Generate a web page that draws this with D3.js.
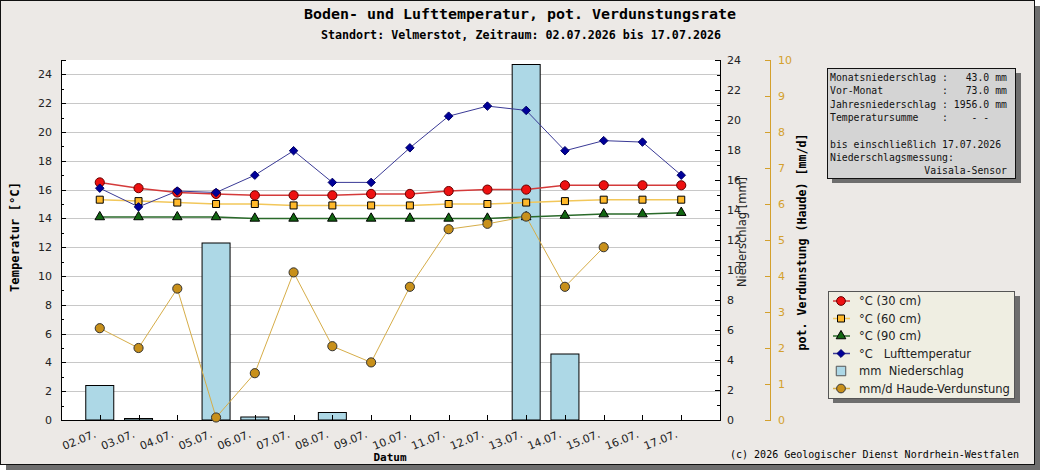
<!DOCTYPE html>
<html>
<head>
<meta charset="utf-8">
<script src="https://cdn.jsdelivr.net/npm/d3@7"></script>
<style>
  body { margin: 0; background: #fff; }
  svg text { white-space: pre; }
</style>
</head>
<body>
<svg id="drawing_region"></svg>
<script>
// dates (x categories)
const dates = ["02.07.", "03.07.", "04.07.", "05.07.", "06.07.", "07.07.", "08.07.", "09.07.",
               "10.07.", "11.07.", "12.07.", "13.07.", "14.07.", "15.07.", "16.07.", "17.07."];
// soil temperature in 30 / 60 / 90 cm, air temperature [°C]
const temp30 = [16.5, 16.1, 15.8, 15.7, 15.6, 15.6, 15.6, 15.7, 15.7, 15.9, 16.0, 16.0, 16.3, 16.3, 16.3, 16.3];
const temp60 = [15.3, 15.2, 15.1, 15.0, 15.0, 14.9, 14.9, 14.9, 14.9, 15.0, 15.0, 15.1, 15.2, 15.3, 15.3, 15.3];
const temp90 = [14.1, 14.1, 14.1, 14.1, 14.0, 14.0, 14.0, 14.0, 14.0, 14.0, 14.0, 14.1, 14.2, 14.3, 14.3, 14.4];
const tempAir = [16.1, 14.8, 15.9, 15.8, 17.0, 18.7, 16.5, 16.5, 18.9, 21.1, 21.8, 21.5, 18.7, 19.4, 19.3, 17.0];
// precipitation [mm]
const precip = [2.3, 0.1, 0, 11.8, 0.2, 0, 0.5, 0, 0, 0, 0, 23.7, 4.4, 0, 0, 0];
// potential evaporation (Haude) [mm/d]
const evap = [2.55, 2.0, 3.65, 0.07, 1.3, 4.1, 2.05, 1.6, 3.7, 5.3, 5.45, 5.65, 3.7, 4.8, null, null];

const tempTicks = d3.range(0, 25, 2);
const precipTicks = d3.range(0, 25, 2);
const evapTicks = d3.range(0, 11, 1);

const infoLines = [
    "Monatsniederschlag :   43.0 mm",
    "Vor-Monat          :   73.0 mm",
    "Jahresniederschlag : 1956.0 mm",
    "Temperatursumme    :    - -",
    "",
    "bis einschließlich 17.07.2026",
    "Niederschlagsmessung:",
    "                Vaisala-Sensor"
];

const W = 1040, H = 470;
const margin = {top: 60, right: 320, bottom: 50, left: 61};
const plotRight = 720, plotBottom = 420;
const gold = "#d4a02c";
const mono = "'DejaVu Sans Mono', monospace";
const sans = "'DejaVu Sans', sans-serif";

const svg = d3.select("#drawing_region")
    .attr("width", W)
    .attr("height", H);

// frame with shadow
svg.append("rect").attr("x", 0).attr("y", 0).attr("width", W).attr("height", H).attr("fill", "#ffffff");
svg.append("rect").attr("x", 6).attr("y", 6).attr("width", W - 6).attr("height", H - 6).attr("fill", "#6e6e6e");
svg.append("rect").attr("x", 0.5).attr("y", 0.5).attr("width", 1034).attr("height", 464)
    .attr("fill", "#ece9e6").attr("stroke", "#111").attr("stroke-width", 1);

// scales
const xscale = d3.scalePoint().domain(dates).range([margin.left, plotRight]).padding(1);
const yT = d3.scaleLinear().domain([0, 25]).range([plotBottom, margin.top]);
const yP = d3.scaleLinear().domain([0, 24]).range([plotBottom, margin.top]);
const yE = d3.scaleLinear().domain([0, 10]).range([plotBottom, margin.top]);

// plot background
svg.append("rect")
    .attr("x", margin.left).attr("y", margin.top)
    .attr("width", plotRight - margin.left).attr("height", plotBottom - margin.top)
    .attr("fill", "#ffffff");

// grid lines
svg.append("g").selectAll("line")
    .data(tempTicks.filter(d => d > 0))
    .join("line")
    .attr("x1", margin.left).attr("x2", plotRight)
    .attr("y1", d => Math.round(yT(d)) + 0.5).attr("y2", d => Math.round(yT(d)) + 0.5)
    .attr("stroke", "#c8c8c8").attr("stroke-width", 1);

// precipitation bars
const barW = 28;
svg.append("g").selectAll("rect")
    .data(dates.map((d, i) => ({date: d, v: precip[i]})).filter(d => d.v > 0))
    .join("rect")
    .attr("x", d => xscale(d.date) - barW / 2)
    .attr("y", d => yP(d.v))
    .attr("width", barW)
    .attr("height", d => plotBottom - yP(d.v))
    .attr("fill", "#add8e6")
    .attr("stroke", "#000").attr("stroke-width", 1);

// axes
function styleAxis(g, color) {
    g.selectAll("path, line").attr("stroke", color).attr("shape-rendering", "crispEdges");
    g.selectAll("text").attr("fill", color === "#000" ? "#222" : color)
        .style("font-family", sans).style("font-size", "11px");
}

const leftAxis = svg.append("g")
    .attr("transform", `translate(${margin.left},0)`)
    .call(d3.axisLeft(yT).tickValues(tempTicks).tickSizeInner(-5).tickSizeOuter(-5).tickPadding(9));
styleAxis(leftAxis, "#000");
svg.append("g")
    .attr("transform", `translate(${margin.left},0)`)
    .call(d3.axisLeft(yT).tickValues(d3.range(1, 25, 2)).tickSize(-3).tickFormat(""))
    .call(g => { g.select(".domain").remove(); styleAxis(g, "#000"); });

const precipAxis = svg.append("g")
    .attr("transform", `translate(${plotRight},0)`)
    .call(d3.axisRight(yP).tickValues(precipTicks).tickSizeInner(-5).tickSizeOuter(-5).tickPadding(7));
styleAxis(precipAxis, "#000");
svg.append("g")
    .attr("transform", `translate(${plotRight},0)`)
    .call(d3.axisRight(yP).tickValues(d3.range(1, 24, 2)).tickSize(-3).tickFormat(""))
    .call(g => { g.select(".domain").remove(); styleAxis(g, "#000"); });

const evapAxis = svg.append("g")
    .attr("transform", "translate(770,0)")
    .call(d3.axisRight(yE).tickValues(evapTicks).tickSizeInner(-5).tickSizeOuter(-5).tickPadding(8));
styleAxis(evapAxis, gold);

const xAxis = svg.append("g")
    .attr("transform", `translate(0,${plotBottom})`)
    .call(d3.axisBottom(xscale).tickSizeInner(-5).tickSizeOuter(0).tickFormat(""));
styleAxis(xAxis, "#000");
xAxis.select(".domain").attr("d", `M${margin.left},0H${plotRight}`);

svg.append("g").selectAll("text")
    .data(dates)
    .join("text")
    .attr("transform", d => `translate(${xscale(d) - 3},${plotBottom + 17}) rotate(-22)`)
    .attr("text-anchor", "end")
    .style("font-family", sans).style("font-size", "11px")
    .attr("fill", "#222")
    .text(d => d);

// series lines and markers
function drawLine(values, yscale, color, width) {
    const line = d3.line()
        .defined(d => d.v !== null)
        .x(d => xscale(d.date))
        .y(d => yscale(d.v));
    svg.append("path")
        .datum(dates.map((d, i) => ({date: d, v: values[i]})))
        .attr("d", line)
        .attr("fill", "none")
        .attr("stroke", color)
        .attr("stroke-width", width);
}

function drawMarkers(values, yscale, symbol, size, fill, stroke) {
    svg.append("g").selectAll("path")
        .data(dates.map((d, i) => ({date: d, v: values[i]})).filter(d => d.v !== null))
        .join("path")
        .attr("transform", d => `translate(${xscale(d.date)},${yscale(d.v)})`)
        .attr("d", d3.symbol().type(symbol).size(size))
        .attr("fill", fill)
        .attr("stroke", stroke).attr("stroke-width", 1);
}

drawLine(temp90, yT, "#2a6a2a", 1.5);
drawLine(temp60, yT, "#f2c75a", 1.5);
drawLine(temp30, yT, "#d43a3a", 1.5);
drawLine(tempAir, yT, "#3a3a96", 1);
drawLine(evap, yE, "#d6ad48", 1);

drawMarkers(temp90, yT, d3.symbolTriangle, 40, "#116611", "#000");
drawMarkers(temp60, yT, d3.symbolSquare, 49, "#ffb92a", "#000");
drawMarkers(temp30, yT, d3.symbolCircle, 66, "#ee1111", "#660000");
drawMarkers(tempAir, yT, d3.symbolDiamond2, 46, "#000099", "#000066");
drawMarkers(evap, yE, d3.symbolCircle, 66, "#c8901a", "#333");

// titles
svg.append("text")
    .attr("x", 520).attr("y", 19)
    .attr("text-anchor", "middle")
    .attr("textLength", 432).attr("lengthAdjust", "spacingAndGlyphs")
    .style("font-family", mono).style("font-size", "14px").style("font-weight", "bold")
    .text("Boden- und Lufttemperatur, pot. Verdunstungsrate");
svg.append("text")
    .attr("x", 521).attr("y", 39)
    .attr("text-anchor", "middle")
    .attr("textLength", 400).attr("lengthAdjust", "spacingAndGlyphs")
    .style("font-family", mono).style("font-size", "12px").style("font-weight", "bold")
    .text("Standort: Velmerstot, Zeitraum: 02.07.2026 bis 17.07.2026");

svg.append("text")
    .attr("transform", "translate(19,237) rotate(-90)")
    .attr("text-anchor", "middle")
    .attr("textLength", 110).attr("lengthAdjust", "spacingAndGlyphs")
    .style("font-family", mono).style("font-size", "12px").style("font-weight", "bold")
    .text("Temperatur [°C]");
svg.append("text")
    .attr("transform", "translate(746,232) rotate(-90)")
    .attr("text-anchor", "middle")
    .attr("fill", "#222")
    .style("font-family", sans).style("font-size", "11.5px")
    .text("Niederschlag [mm]");
svg.append("text")
    .attr("transform", "translate(806,242) rotate(-90)")
    .attr("text-anchor", "middle")
    .attr("textLength", 217).attr("lengthAdjust", "spacingAndGlyphs")
    .style("font-family", mono).style("font-size", "12px").style("font-weight", "bold")
    .text("pot. Verdunstung (Haude) [mm/d]");
svg.append("text")
    .attr("x", 390).attr("y", 461)
    .attr("text-anchor", "middle")
    .style("font-family", mono).style("font-size", "11px").style("font-weight", "bold")
    .text("Datum");
svg.append("text")
    .attr("x", 1019).attr("y", 458)
    .attr("text-anchor", "end")
    .attr("textLength", 289).attr("lengthAdjust", "spacingAndGlyphs")
    .style("font-family", mono).style("font-size", "10px")
    .text("(c) 2026 Geologischer Dienst Nordrhein-Westfalen");

// info box
svg.append("rect").attr("x", 832).attr("y", 73).attr("width", 189).attr("height", 110).attr("fill", "#6e6e6e");
svg.append("rect").attr("x", 827.5).attr("y", 68.5).attr("width", 188).attr("height", 110)
    .attr("fill", "#d4d4d4").attr("stroke", "#111");
svg.append("g").selectAll("text")
    .data(infoLines)
    .join("text")
    .attr("x", 830).attr("y", (d, i) => 81 + i * 13.3)
    .style("font-family", mono).style("font-size", "9.8px")
    .attr("fill", "#111")
    .text(d => d);

// legend
const legendItems = [
    {label: "°C (30 cm)", line: "#d43a3a", symbol: d3.symbolCircle, size: 60, fill: "#ee1111", stroke: "#660000"},
    {label: "°C (60 cm)", line: "#f2c75a", symbol: d3.symbolSquare, size: 49, fill: "#ffb92a", stroke: "#000"},
    {label: "°C (90 cm)", line: "#2a6a2a", symbol: d3.symbolTriangle, size: 40, fill: "#116611", stroke: "#000"},
    {label: "°C   Lufttemperatur", line: "#3a3a96", symbol: d3.symbolDiamond2, size: 40, fill: "#000099", stroke: "#000066"},
    {label: "mm  Niederschlag", line: null, symbol: d3.symbolSquare, size: 90, fill: "#add8e6", stroke: "#555"},
    {label: "mm/d Haude-Verdunstung", line: "#d6ad48", symbol: d3.symbolCircle, size: 60, fill: "#c8901a", stroke: "#333"}
];
svg.append("rect").attr("x", 833).attr("y", 296).attr("width", 187).attr("height", 107).attr("fill", "#6e6e6e");
svg.append("rect").attr("x", 828.5).attr("y", 291.5).attr("width", 186).attr("height", 107)
    .attr("fill", "#efeee2").attr("stroke", "#555");
const legend = svg.append("g").selectAll("g")
    .data(legendItems)
    .join("g")
    .attr("transform", (d, i) => `translate(841,${301 + i * 17.5})`);
legend.filter(d => d.line)
    .append("line")
    .attr("x1", -8).attr("x2", 9)
    .attr("stroke", d => d.line).attr("stroke-width", 1.5);
legend.append("path")
    .attr("d", d => d3.symbol().type(d.symbol).size(d.size)())
    .attr("fill", d => d.fill)
    .attr("stroke", d => d.stroke);
legend.append("text")
    .attr("x", 18).attr("y", 4)
    .style("font-family", sans).style("font-size", "11.5px")
    .attr("fill", "#222")
    .text(d => d.label);
</script>
</body>
</html>
